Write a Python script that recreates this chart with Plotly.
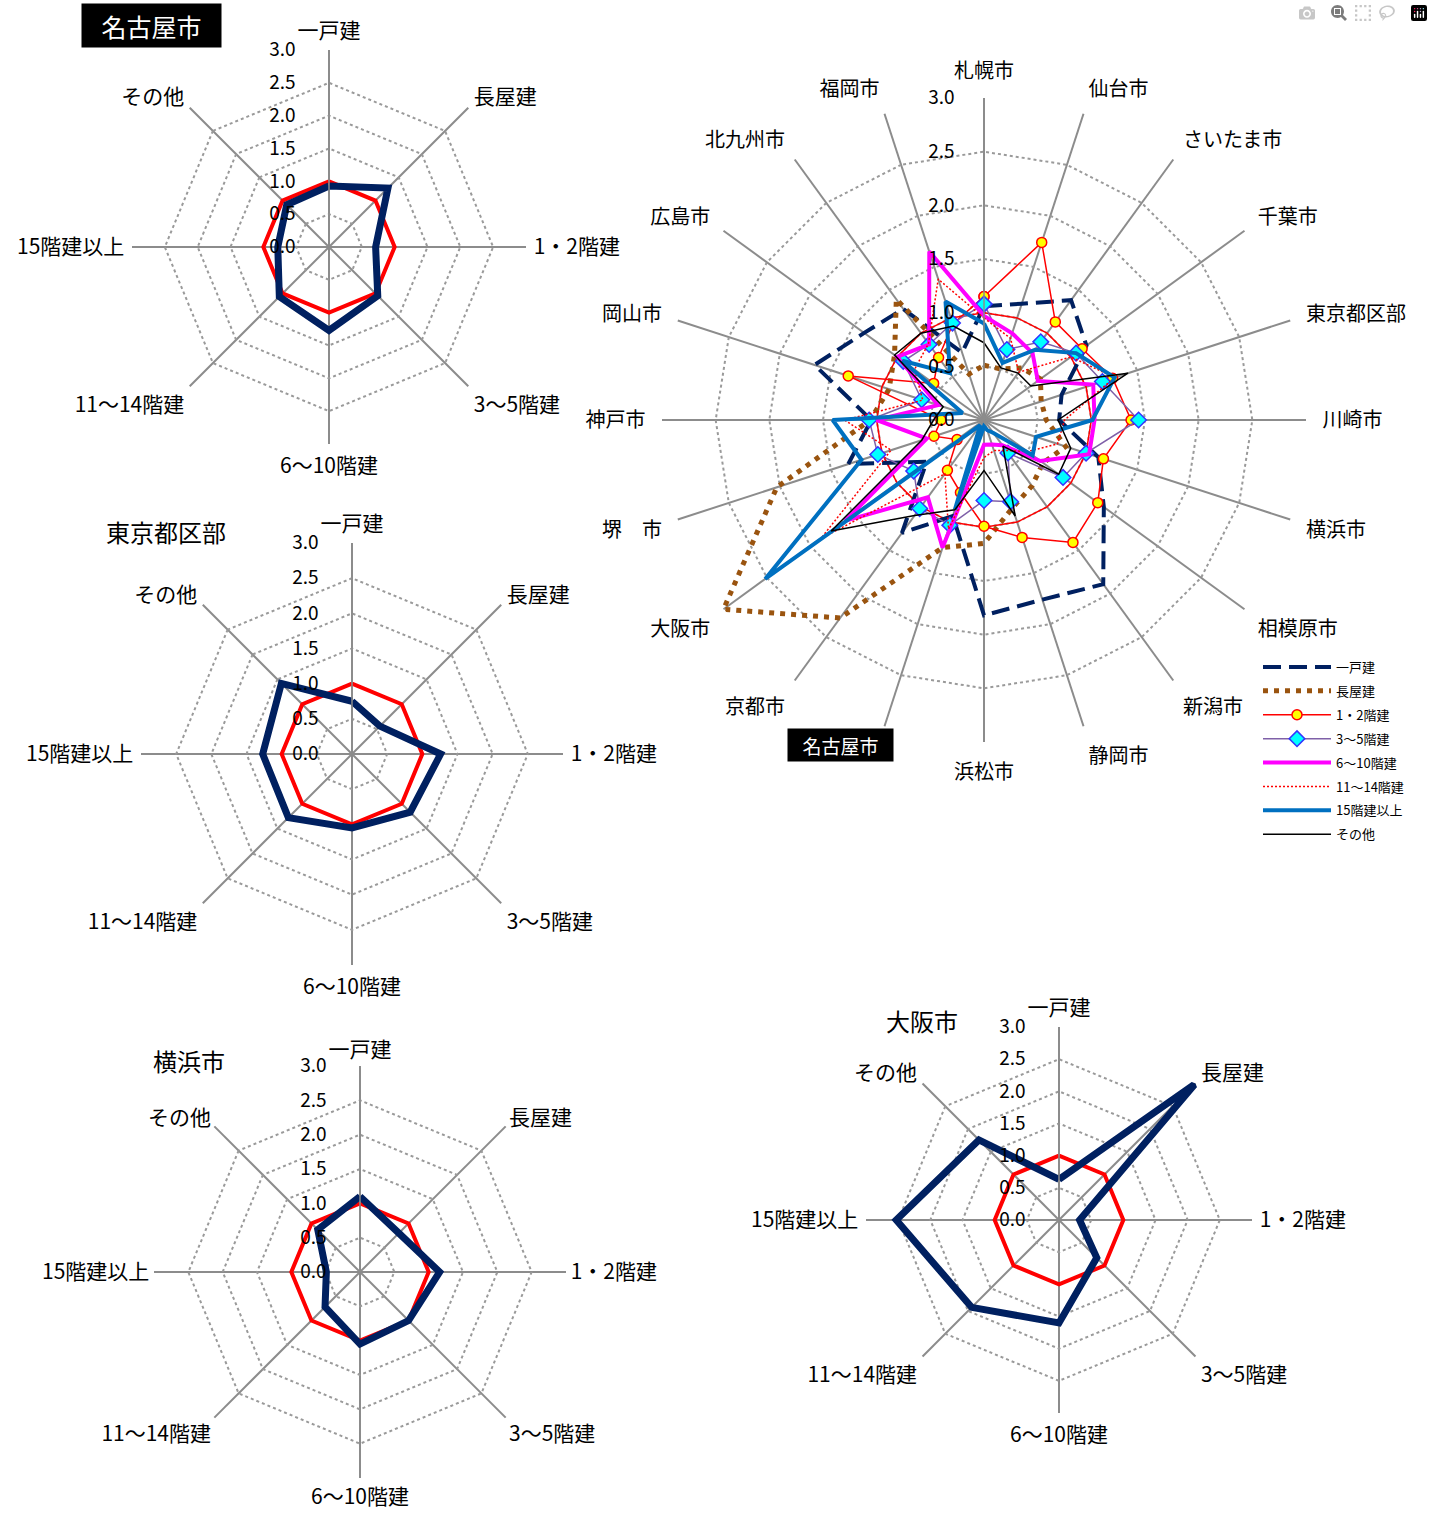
import plotly.graph_objects as go

W, H = 1433, 1513

# ---------------- data ----------------
cities = ["札幌市", "仙台市", "さいたま市", "千葉市", "東京都区部", "川崎市", "横浜市",
          "相模原市", "新潟市", "静岡市", "浜松市", "名古屋市", "京都市", "大阪市",
          "堺　市", "神戸市", "岡山市", "広島市", "北九州市", "福岡市"]
types = ["一戸建", "長屋建", "1・2階建", "3～5階建", "6～10階建", "11～14階建", "15階建以上", "その他"]

ikkodate   = [1.06, 1.14, 1.38, 1.18, 0.76, 0.70, 1.12, 1.38, 1.89, 1.76, 1.82, 0.94, 1.30, 0.66, 1.33, 1.05, 1.66, 1.38, 1.28, 0.66]
nagaya     = [0.51, 0.50, 0.60, 0.65, 0.56, 0.58, 0.80, 0.68, 0.76, 0.86, 1.15, 1.25, 2.28, 3.00, 2.03, 1.06, 0.93, 1.03, 1.39, 0.45]
f1_2       = [1.15, 1.74, 1.13, 1.13, 1.26, 1.37, 1.17, 1.31, 1.41, 1.15, 0.99, 0.71, 0.58, 0.31, 0.49, 0.40, 1.33, 0.58, 0.72, 0.94]
f3_5       = [1.08, 0.69, 0.90, 1.06, 1.16, 1.44, 1.00, 0.91, 0.38, 0.80, 0.75, 1.03, 1.02, 0.81, 1.04, 1.07, 0.61, 0.93, 0.87, 0.95]
f6_10      = [0.97, 0.85, 0.77, 0.62, 1.07, 1.03, 1.03, 0.65, 0.29, 0.24, 0.23, 1.25, 0.89, 1.60, 0.56, 1.00, 0.45, 1.00, 0.87, 1.65]
f11_14     = [0.95, 0.80, 0.55, 1.00, 1.28, 0.75, 0.72, 0.50, 0.35, 0.30, 0.35, 1.07, 0.62, 1.88, 0.91, 1.30, 0.60, 0.80, 0.88, 1.38]
f15up      = [0.90, 0.56, 0.81, 1.06, 1.28, 1.01, 0.51, 0.56, 0.15, 0.10, 0.06, 0.88, 0.06, 2.52, 1.20, 1.41, 0.21, 0.94, 0.54, 1.16]
sonota     = [0.72, 0.51, 0.54, 0.54, 1.41, 0.69, 0.85, 0.86, 0.30, 0.94, 0.47, 0.88, 1.10, 1.76, 0.61, 0.47, 0.40, 1.03, 1.00, 0.92]
baseline20 = [1.0] * 20

nagoya = [0.93, 1.27, 0.71, 1.05, 1.27, 1.07, 0.78, 0.91]
tokyo  = [0.75, 0.56, 1.26, 1.17, 1.05, 1.28, 1.27, 1.42]
yokohama = [1.10, 0.80, 1.16, 1.00, 1.05, 0.72, 0.49, 0.87]
osaka  = [0.63, 3.00, 0.32, 0.83, 1.60, 1.92, 2.53, 1.76]
baseline8 = [1.0] * 8

radial_ticks = [0.0, 0.5, 1.0, 1.5, 2.0, 2.5, 3.0]
radial_labels = ["0.0", "0.5", "1.0", "1.5", "2.0", "2.5", "3.0"]

FONT = "Noto Sans CJK JP"


def closed(v):
    return list(v) + [v[0]]


def dom(cx, cy, R):
    return dict(x=[(cx - R) / W, (cx + R) / W], y=[1 - (cy + R) / H, 1 - (cy - R) / H])


fig = go.Figure()

# ---------- big chart ----------
fig.add_trace(go.Scatterpolar(r=closed(baseline20), theta=closed(cities), mode="lines",
                              line=dict(color="#FF0000", width=1.5), showlegend=False,
                              hoverinfo="skip", subplot="polar"))

series = [
    ("一戸建", ikkodate, dict(color="#002060", width=4, dash="18px,8px"), None),
    ("長屋建", nagaya, dict(color="#9A540F", width=5, dash="5px,6px"), None),
    ("1・2階建", f1_2, dict(color="#FF0000", width=1.5),
     dict(symbol="circle", size=10, color="#FFFF00", line=dict(color="#FF0000", width=1.5))),
    ("3～5階建", f3_5, dict(color="#7F60A8", width=1.5),
     dict(symbol="diamond", size=12, color="#00FFFF", line=dict(color="#3333FF", width=1.5))),
    ("6～10階建", f6_10, dict(color="#FF00FF", width=4), None),
    ("11～14階建", f11_14, dict(color="#FF0000", width=1.5, dash="2px,2px"), None),
    ("15階建以上", f15up, dict(color="#0070C0", width=4), None),
    ("その他", sonota, dict(color="#000000", width=1.5), None),
]
for i, (name, vals, line, marker) in enumerate(series):
    kw = dict(mode="lines+markers", marker=marker) if marker else dict(mode="lines")
    fig.add_trace(go.Scatterpolar(r=closed(vals), theta=closed(cities), name=name, line=line,
                                  legendgroup=f"g{i}", subplot="polar", **kw))

# ---------- small charts ----------
small = [("polar2", nagoya), ("polar3", tokyo), ("polar4", yokohama), ("polar5", osaka)]
for sp, vals in small:
    fig.add_trace(go.Scatterpolar(r=closed(baseline8), theta=closed(types), mode="lines",
                                  line=dict(color="#FF0000", width=4), showlegend=False,
                                  subplot=sp, hoverinfo="skip"))
    fig.add_trace(go.Scatterpolar(r=closed(vals), theta=closed(types), mode="lines",
                                  line=dict(color="#002060", width=7), showlegend=False,
                                  subplot=sp))


def polar_layout(cx, cy, R, cats, ticktext, fsize, tlen, rlen):
    return dict(
        domain=dom(cx, cy, R),
        bgcolor="white",
        gridshape="linear",
        radialaxis=dict(range=[0, 3.0], tickvals=radial_ticks, ticktext=radial_labels,
                        angle=90, side="counterclockwise", tickangle=90,
                        showline=True, linecolor="#8C8C8C", linewidth=1.5,
                        showgrid=True, gridcolor="#9A9A9A", gridwidth=1.5, griddash="dot",
                        ticks="outside", ticklen=rlen, tickcolor="rgba(0,0,0,0)",
                        tickfont=dict(family=FONT, size=19, color="black")),
        angularaxis=dict(categoryorder="array", categoryarray=cats,
                         tickmode="array", tickvals=cats, ticktext=ticktext,
                         direction="clockwise", rotation=90,
                         showline=False, showgrid=True, gridcolor="#8C8C8C", gridwidth=1.5,
                         ticks="outside", ticklen=tlen, tickcolor="rgba(0,0,0,0)",
                         tickfont=dict(family=FONT, size=fsize, color="black")),
    )


big_ticktext = [c if c != "名古屋市" else "" for c in cities]

fig.update_layout(
    width=W, height=H,
    margin=dict(l=0, r=0, t=0, b=0),
    paper_bgcolor="white", plot_bgcolor="white",
    font=dict(family=FONT, color="black"),
    polar=polar_layout(984, 420, 322, cities, big_ticktext, 20, 12, 22),
    polar2=polar_layout(329, 247, 197, types, types, 21, 3, 26),
    polar3=polar_layout(352, 754, 211, types, types, 21, 3, 26),
    polar4=polar_layout(360, 1272, 206, types, types, 21, 0, 26),
    polar5=polar_layout(1059, 1220, 193, types, types, 21, 3, 26),
    legend=dict(x=1258 / W, y=1 - 652 / H, xanchor="left", yanchor="top",
                font=dict(family=FONT, size=13, color="black"),
                bgcolor="rgba(255,255,255,0)", tracegroupgap=4, itemwidth=68),
    annotations=[
        dict(text="名古屋市", x=151.5 / W, y=1 - 25.5 / H, xref="paper", yref="paper",
             xanchor="center", yanchor="middle",
             showarrow=False, bgcolor="black", width=137, height=41,
             font=dict(family=FONT, size=25, color="white")),
        dict(text="名古屋市", x=840 / W, y=1 - 745 / H, xref="paper", yref="paper",
             xanchor="center", yanchor="middle",
             showarrow=False, bgcolor="black", width=103, height=30,
             font=dict(family=FONT, size=19, color="white")),
        dict(text="東京都区部", x=166 / W, y=1 - 531 / H, xref="paper", yref="paper",
             xanchor="center", yanchor="middle",
             showarrow=False, font=dict(family=FONT, size=24, color="black")),
        dict(text="横浜市", x=189 / W, y=1 - 1060 / H, xref="paper", yref="paper",
             xanchor="center", yanchor="middle",
             showarrow=False, font=dict(family=FONT, size=24, color="black")),
        dict(text="大阪市", x=922 / W, y=1 - 1021 / H, xref="paper", yref="paper",
             xanchor="center", yanchor="middle",
             showarrow=False, font=dict(family=FONT, size=24, color="black")),
    ],
)

fig.write_html("out.html", post_script="document.body.style.margin='0px';")
